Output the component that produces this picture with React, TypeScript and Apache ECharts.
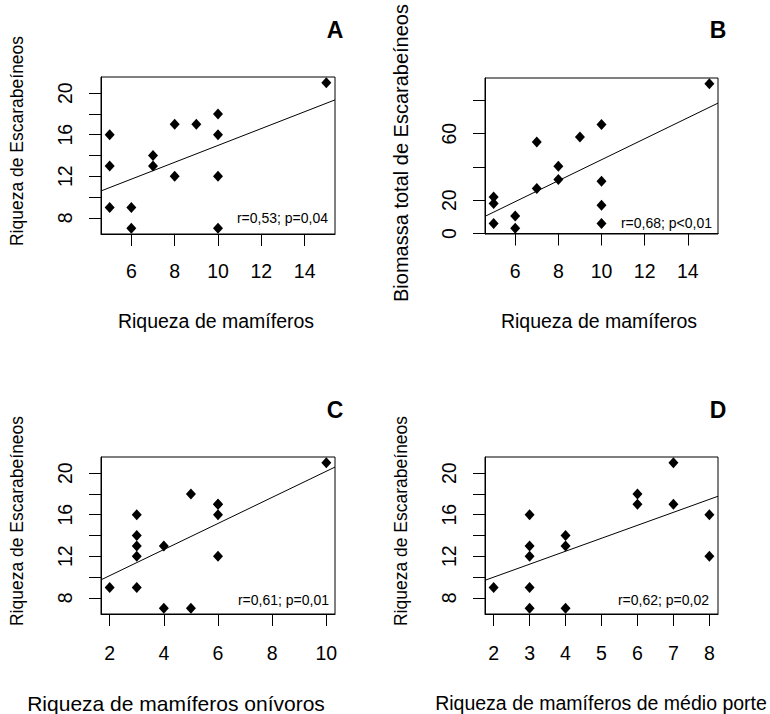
import React, { useEffect, useRef } from "react";
import * as echarts from "echarts";

// ---------- data ----------
const xMamiferosA = [5, 5, 5, 6, 6, 7, 7, 8, 8, 9, 10, 10, 10, 10, 15];
const riquezaA = [16, 13, 9, 9, 7, 14, 13, 17, 12, 17, 18, 16, 12, 7, 21];

const xMamiferosB = [5, 5, 5, 6, 6, 7, 7, 8, 8, 9, 10, 10, 10, 10, 15];
const biomassaB = [22, 18, 6, 10.5, 3.2, 55, 27, 40.5, 32.5, 58, 65.5, 31.5, 17, 6, 90];

const xOnivorosC = [2, 3, 3, 3, 3, 3, 4, 4, 5, 5, 6, 6, 6, 6, 10];
const riquezaC = [9, 16, 14, 13, 12, 9, 13, 7, 18, 7, 17, 17, 16, 12, 21];

const xMedioPorteD = [2, 3, 3, 3, 3, 3, 4, 4, 4, 6, 6, 7, 7, 8, 8];
const riquezaD = [9, 16, 13, 12, 9, 7, 14, 13, 7, 18, 17, 21, 17, 16, 12];

const xTicksAB = [6, 8, 10, 12, 14];
const xTicksC = [2, 4, 6, 8, 10];
const xTicksD = [2, 3, 4, 5, 6, 7, 8];
const yTicksRiqueza = [8, 10, 12, 14, 16, 18, 20];
const yLabelsRiqueza = [8, 12, 16, 20];
const yTicksBiomassa = [0, 20, 40, 60, 80];
const yLabelsBiomassa = [0, 20, 60];

const panelLetters = ["A", "B", "C", "D"];
const statsTexts = ["r=0,53; p=0,04", "r=0,68; p<0,01", "r=0,61; p=0,01", "r=0,62; p=0,02"];
const xTitles = [
  "Riqueza de mamíferos",
  "Riqueza de mamíferos",
  "Riqueza de mamíferos onívoros",
  "Riqueza de mamíferos de médio porte",
];
const yTitles = [
  "Riqueza de Escarabeíneos",
  "Biomassa total de Escarabeíneos",
  "Riqueza de Escarabeíneos",
  "Riqueza de Escarabeíneos",
];

// ---------- helpers ----------
const FONT = "'Liberation Sans', Arial, sans-serif";

function padRange(v: number[]): [number, number] {
  const mn = Math.min(...v);
  const mx = Math.max(...v);
  const p = (mx - mn) * 0.04;
  return [mn - p, mx + p];
}

function fit(x: number[], y: number[]): [number, number] {
  const n = x.length;
  const mx = x.reduce((a, b) => a + b, 0) / n;
  const my = y.reduce((a, b) => a + b, 0) / n;
  let sxy = 0;
  let sxx = 0;
  for (let i = 0; i < n; i++) {
    sxy += (x[i] - mx) * (y[i] - my);
    sxx += (x[i] - mx) * (x[i] - mx);
  }
  const b = sxy / sxx;
  return [my - b * mx, b];
}

const panels = [
  { x: xMamiferosA, y: riquezaA, xt: xTicksAB, xl: xTicksAB, yt: yTicksRiqueza, yl: yLabelsRiqueza },
  { x: xMamiferosB, y: biomassaB, xt: xTicksAB, xl: xTicksAB, yt: yTicksBiomassa, yl: yLabelsBiomassa },
  { x: xOnivorosC, y: riquezaC, xt: xTicksC, xl: xTicksC, yt: yTicksRiqueza, yl: yLabelsRiqueza },
  { x: xMedioPorteD, y: riquezaD, xt: xTicksD, xl: xTicksD, yt: yTicksRiqueza, yl: yLabelsRiqueza },
];

// ---------- layout ----------
const grids = [
  { left: 101, top: 77, width: 234, height: 157 },
  { left: 485, top: 78, width: 233, height: 156 },
  { left: 101, top: 457, width: 234, height: 157 },
  { left: 485, top: 457, width: 233, height: 157 },
];
const xLabelMargin = [27, 27, 29, 29];
const letterPos = [
  [335, 30],
  [718, 30],
  [335, 410],
  [718, 410],
];
const statsPos = [
  [328, 218],
  [712, 223],
  [329, 600],
  [709, 600],
];
const xTitlePos = [
  [216, 321, 19.5],
  [599, 321, 19.5],
  [176, 703, 21],
  [601, 703, 19.5],
];
const yTitlePos = [
  [17, 141, 17.5],
  [401, 153, 20],
  [17, 521, 17.5],
  [401, 521, 17.5],
];

export default function App() {
  const ref = useRef<HTMLDivElement>(null);

  useEffect(() => {
    if (!ref.current) return;
    const chart = echarts.init(ref.current, null, { renderer: "svg" });

    const xAxis: any[] = [];
    const yAxis: any[] = [];
    const series: any[] = [];
    const graphic: any[] = [];

    panels.forEach((p, i) => {
      const [x0, x1] = padRange(p.x);
      const [y0, y1] = padRange(p.y);
      xAxis.push({
        gridIndex: i,
        type: "value",
        min: x0,
        max: x1,
        axisLine: { show: true, lineStyle: { color: "#000", width: 1 } },
        axisTick: { show: true, length: 12, lineStyle: { color: "#000", width: 1 }, customValues: p.xt },
        axisLabel: {
          customValues: p.xl,
          color: "#000",
          fontSize: 19.5,
          fontFamily: FONT,
          margin: xLabelMargin[i],
        },
        splitLine: { show: false },
      });
      yAxis.push({
        gridIndex: i,
        type: "value",
        min: y0,
        max: y1,
        axisLine: { show: true, lineStyle: { color: "#000", width: 1 } },
        axisTick: { show: true, length: 12, lineStyle: { color: "#000", width: 1 }, customValues: p.yt },
        axisLabel: {
          customValues: p.yl,
          color: "#000",
          fontSize: 19.5,
          fontFamily: FONT,
          rotate: 90,
          margin: 26,
        },
        splitLine: { show: false },
      });
      series.push({
        type: "scatter",
        xAxisIndex: i,
        yAxisIndex: i,
        symbol: "diamond",
        symbolSize: [10, 11],
        itemStyle: { color: "#000", opacity: 1 },
        data: p.x.map((v, k) => [v, p.y[k]]),
        silent: true,
      });
      const [a, b] = fit(p.x, p.y);
      series.push({
        type: "line",
        xAxisIndex: i,
        yAxisIndex: i,
        showSymbol: false,
        symbol: "none",
        clip: true,
        lineStyle: { color: "#000", width: 1 },
        data: [
          [x0, a + b * x0],
          [x1, a + b * x1],
        ],
        silent: true,
      });

      graphic.push({
        type: "text",
        x: letterPos[i][0],
        y: letterPos[i][1],
        style: {
          text: panelLetters[i],
          fontSize: 23,
          fontWeight: "bold",
          fontFamily: FONT,
          fill: "#000",
          textAlign: "center",
          textVerticalAlign: "middle",
        },
      });
      graphic.push({
        type: "text",
        x: statsPos[i][0],
        y: statsPos[i][1],
        style: {
          text: statsTexts[i],
          fontSize: 14,
          fontFamily: FONT,
          fill: "#000",
          textAlign: "right",
          textVerticalAlign: "middle",
        },
      });
      graphic.push({
        type: "text",
        x: xTitlePos[i][0],
        y: xTitlePos[i][1],
        style: {
          text: xTitles[i],
          fontSize: xTitlePos[i][2],
          fontFamily: FONT,
          fill: "#000",
          textAlign: "center",
          textVerticalAlign: "middle",
        },
      });
      graphic.push({
        type: "text",
        x: yTitlePos[i][0],
        y: yTitlePos[i][1],
        rotation: Math.PI / 2,
        style: {
          text: yTitles[i],
          fontSize: yTitlePos[i][2],
          fontFamily: FONT,
          fill: "#000",
          textAlign: "center",
          textVerticalAlign: "middle",
        },
      });
    });

    chart.setOption({
      animation: false,
      backgroundColor: "#fff",
      grid: grids.map((g) => ({
        ...g,
        containLabel: false,
        outerBoundsMode: "none",
        show: true,
        borderColor: "#000",
        borderWidth: 1,
        backgroundColor: "transparent",
      })),
      xAxis,
      yAxis,
      series,
      graphic,
    });

    return () => chart.dispose();
  }, []);

  return (
    <div
      ref={ref}
      style={{ position: "fixed", left: 0, top: 0, width: 770, height: 714, background: "#fff" }}
    />
  );
}
